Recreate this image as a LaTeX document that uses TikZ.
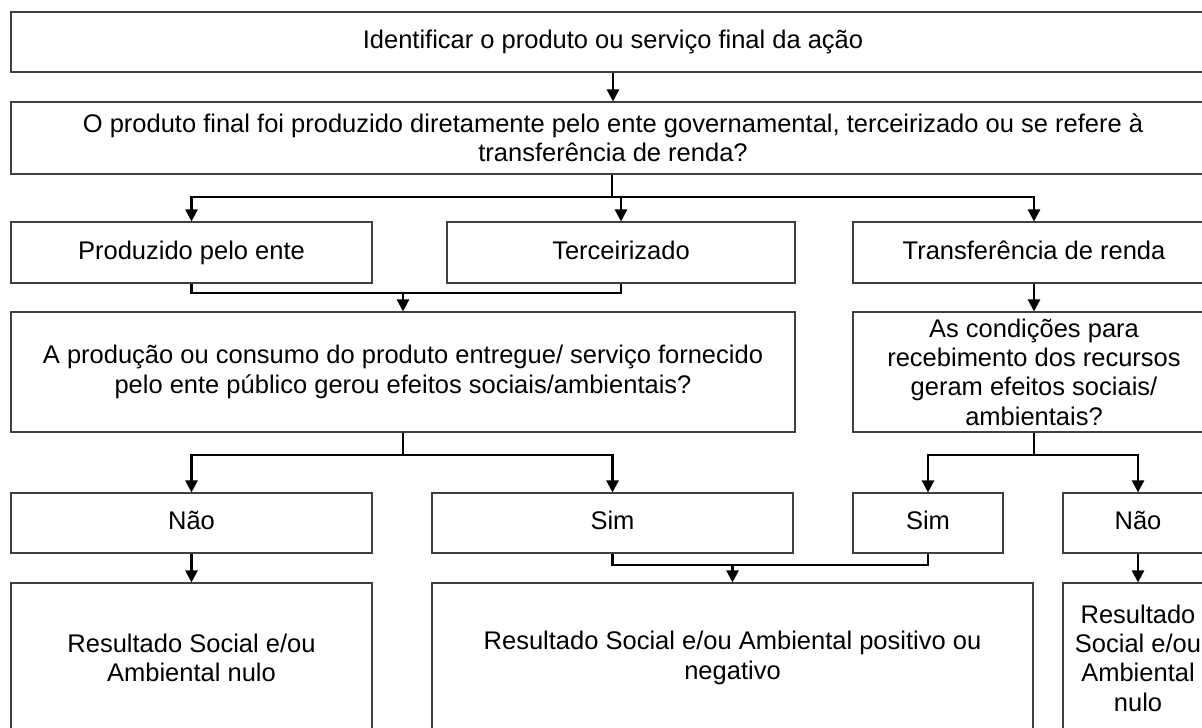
\documentclass[tikz,border=0pt]{standalone}
\usepackage{fontspec}
\setmainfont{Liberation Sans}
\usetikzlibrary{arrows.meta, positioning}

\begin{document}
\begin{tikzpicture}[x=1pt, y=-1pt,
	caixa/.style={draw=black!75, line width=1.1pt, align=center, inner sep=0pt,
		font=\fontsize{25.5}{29.3}\selectfont},
	linha/.style={caixa, text height=18.5pt, text depth=5.5pt},
	liga/.style={line width=2.5pt, black},
	seta/.style={liga, -{Triangle[width=12pt, length=12pt]}}]
	
	% moldura da figura
	\useasboundingbox (0, 0) rectangle (1202, 728);
	\clip (0, 0) rectangle (1202, 728);
	
	% primeiras caixas
	\node[linha, minimum width=1204, minimum height=60] (ident) at (613, 42)
		{Identificar o produto ou serviço final da ação};
	\node[caixa, minimum width=1204, minimum height=72] (pergunta) at (613, 138)
		{O produto final foi produzido diretamente pelo ente governamental, terceirizado ou se refere à\\transferência de renda?};
	
	% tipo de produto
	\node[linha, minimum width=361, minimum height=61] (prod) at (191.5, 252.5) {Produzido pelo ente};
	\node[linha, minimum width=348, minimum height=61] (terc) at (621, 252.5) {Terceirizado};
	\node[linha, minimum width=362, minimum height=61] (transf) at (1034, 252.5) {Transferência de renda};
	
	% perguntas sobre efeitos
	\node[caixa, minimum width=784, minimum height=120] (efeitos) at (403, 372)
		{A produção ou consumo do produto entregue/ serviço fornecido\\pelo ente público gerou efeitos sociais/ambientais?};
	\node[caixa, minimum width=362, minimum height=120] (condicoes) at (1034, 372)
		{As condições para\\recebimento dos recursos\\geram efeitos sociais/\\ambientais?};
	
	% respostas
	\node[linha, minimum width=361, minimum height=60] (nao1) at (191.5, 523) {Não};
	\node[linha, minimum width=361, minimum height=60] (sim1) at (612.5, 523) {Sim};
	\node[linha, minimum width=150, minimum height=60] (sim2) at (928, 523) {Sim};
	\node[linha, minimum width=150, minimum height=60] (nao2) at (1138, 523) {Não};
	
	% resultados
	\node[caixa, minimum width=361, minimum height=150] (res1) at (191.5, 658)
		{Resultado Social e/ou\\Ambiental nulo};
	\node[caixa, minimum width=601, minimum height=150] (res2) at (732.5, 658)
		{Resultado Social e/ou Ambiental positivo ou\\negativo};
	\node[caixa, minimum width=150, minimum height=150] (res3) at (1138, 658)
		{Resultado\\Social e/ou\\Ambiental\\nulo};
	
	% pontos de ramificacao
	\coordinate (div1) at (612, 197);
	\coordinate (jun1) at (403, 293);
	\coordinate (div2) at (403, 455);
	\coordinate (div3) at (1034, 455);
	\coordinate (jun2) at (732.5, 565);
	
	% ligacoes
	\draw[seta] (ident) -- (pergunta);
	\draw[liga] (pergunta.south -| div1) -- (div1);
	\draw[seta] (div1) -| (prod.north);
	\draw[seta] (div1) -| (terc.north);
	\draw[seta] (div1) -| (transf.north);
	
	\draw[liga] (prod.south) |- (jun1) -| (terc.south);
	\draw[seta] (jun1) -- (efeitos.north);
	\draw[seta] (transf) -- (condicoes);
	
	\draw[liga] (efeitos.south) -- (div2);
	\draw[seta] (div2) -| (nao1.north);
	\draw[seta] (div2) -| (sim1.north);
	\draw[liga] (condicoes.south) -- (div3);
	\draw[seta] (div3) -| (sim2.north);
	\draw[seta] (div3) -| (nao2.north);
	
	\draw[liga] (sim1.south) |- (jun2) -| (sim2.south);
	\draw[seta] (jun2) -- (res2.north);
	\draw[seta] (nao1) -- (res1);
	\draw[seta] (nao2) -- (res3);
	
\end{tikzpicture}
\end{document}
